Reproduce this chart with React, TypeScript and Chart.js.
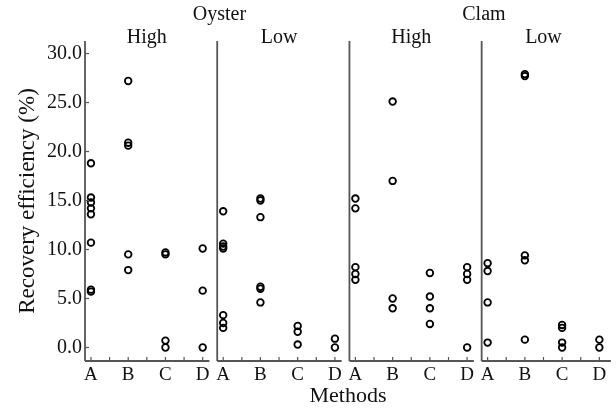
import React, { useEffect, useRef } from 'react';
import { Chart, registerables } from 'chart.js';

Chart.register(...registerables);

// ---- data ----
const methods = ['A', 'B', 'C', 'D'];
const groupTitles = ['Oyster', 'Clam'];
const levelTitles = ['High', 'Low', 'High', 'Low'];
const yTickValues = [0, 5, 10, 15, 20, 25, 30];

const oysterHigh = [
  [18.8, 15.3, 14.8, 14.2, 13.6, 10.7, 5.9, 5.7],
  [27.2, 20.9, 20.6, 9.5, 7.9],
  [9.7, 9.5, 0.7, 0.0],
  [10.1, 5.8, 0.0],
];
const oysterLow = [
  [13.9, 10.6, 10.3, 10.1, 3.3, 2.5, 2.0],
  [15.2, 15.0, 13.3, 6.2, 6.0, 4.6],
  [2.2, 1.6, 0.3],
  [0.9, 0.0],
];
const clamHigh = [
  [15.2, 14.2, 8.2, 7.5, 6.9],
  [25.1, 17.0, 5.0, 4.0],
  [7.6, 5.2, 4.0, 2.4],
  [8.2, 7.5, 6.9, 0.0],
];
const clamLow = [
  [8.6, 7.8, 4.6, 0.5],
  [27.9, 27.7, 9.4, 8.9, 0.8],
  [2.3, 2.0, 0.5, 0.0],
  [0.8, 0.0],
];
const panelData = [oysterHigh, oysterLow, clamHigh, clamLow];

// ---- layout constants (scale units) ----
const PANEL_SPAN = 3.55;
const EDGE = 0.16;
const X_MAX = 3 * PANEL_SPAN + 3.31;
const Y_MIN = -1.38;
const Y_MAX = 31.28;
const FONT = "'Liberation Serif', 'Times New Roman', serif";
const AXIS_COLOR = '#555';
const TEXT_COLOR = '#111';

const xTickPositions: number[] = [];
panelData.forEach((_, p) => methods.forEach((__, c) => xTickPositions.push(p * PANEL_SPAN + c)));

const panelFramePlugin = {
  id: 'panelFrame',
  afterDraw(chart: any) {
    const { ctx, chartArea, scales } = chart;
    const xs = scales.x;
    const ys = scales.y;
    ctx.save();
    ctx.strokeStyle = AXIS_COLOR;
    ctx.lineWidth = 1.8;
    const bottom = chartArea.bottom;
    const top = chartArea.top;
    panelData.forEach((_, p) => {
      const left = xs.getPixelForValue(p * PANEL_SPAN - EDGE);
      const right = p === panelData.length - 1 ? chartArea.right : xs.getPixelForValue(p * PANEL_SPAN + 3.18);
      ctx.beginPath();
      ctx.moveTo(left, top);
      ctx.lineTo(left, bottom);
      ctx.moveTo(left, bottom);
      ctx.lineTo(right, bottom);
      ctx.stroke();
      ctx.lineWidth = 1.2;
      for (let c = 0; c <= 3; c += 0.5) {
        const px = xs.getPixelForValue(p * PANEL_SPAN + c);
        ctx.beginPath();
        ctx.moveTo(px, bottom);
        ctx.lineTo(px, bottom - 4);
        ctx.stroke();
      }
      if (p === 0) {
        yTickValues.forEach((v) => {
          const py = ys.getPixelForValue(v);
          ctx.beginPath();
          ctx.moveTo(left, py);
          ctx.lineTo(left + 4, py);
          ctx.stroke();
        });
      }
      ctx.lineWidth = 1.8;
    });
    ctx.fillStyle = TEXT_COLOR;
    ctx.textAlign = 'center';
    ctx.textBaseline = 'middle';
    ctx.font = `20px ${FONT}`;
    levelTitles.forEach((t, p) => {
      ctx.fillText(t, xs.getPixelForValue(p * PANEL_SPAN + 1.5), 38);
    });
    groupTitles.forEach((t, g) => {
      const edge = (2 * g + 1) * PANEL_SPAN - EDGE + 0.06;
      ctx.fillText(t, xs.getPixelForValue(edge), 15);
    });
    ctx.restore();
  },
};

export default function App() {
  const canvasRef = useRef<HTMLCanvasElement | null>(null);

  useEffect(() => {
    document.body.style.margin = '0';
    const canvas = canvasRef.current;
    if (!canvas) return;
    const datasets = panelData.map((panel, p) => ({
      label: levelTitles[p],
      data: panel.flatMap((vals, c) => vals.map((v) => ({ x: p * PANEL_SPAN + c, y: v }))),
      pointStyle: 'circle',
      pointRadius: 3.3,
      pointBorderWidth: 1.8,
      borderColor: '#000',
      backgroundColor: 'rgba(0,0,0,0)',
      pointHoverRadius: 3.3,
    }));
    const chart = new Chart(canvas, {
      type: 'scatter',
      data: { datasets },
      options: {
        animation: false,
        responsive: false,
        devicePixelRatio: 1,
        layout: { padding: { top: 41, left: 0, right: 0, bottom: 0 } },
        plugins: { legend: { display: false }, tooltip: { enabled: false }, title: { display: false } },
        scales: {
          x: {
            type: 'linear',
            min: -EDGE,
            max: X_MAX,
            grid: { display: false, drawTicks: false },
            border: { display: false },
            afterBuildTicks: (s: any) => {
              s.ticks = xTickPositions.map((v) => ({ value: v }));
            },
            ticks: {
              autoSkip: false,
              maxRotation: 0,
              padding: 3,
              color: TEXT_COLOR,
              font: { family: FONT, size: 19 },
              callback: (_v: any, i: number) => methods[i % methods.length],
            },
            title: {
              display: true,
              text: 'Methods',
              color: TEXT_COLOR,
              font: { family: FONT, size: 22 },
              padding: { top: 0, bottom: 0 },
            },
            afterFit: (s: any) => {
              s.height = 48;
            },
          },
          y: {
            type: 'linear',
            min: Y_MIN,
            max: Y_MAX,
            grid: { display: false, drawTicks: false },
            border: { display: false },
            afterBuildTicks: (s: any) => {
              s.ticks = yTickValues.map((v) => ({ value: v }));
            },
            ticks: {
              padding: 3,
              color: TEXT_COLOR,
              font: { family: FONT, size: 20 },
              callback: (v: any) => Number(v).toFixed(1),
            },
            title: {
              display: true,
              text: 'Recovery efficiency (%)',
              color: TEXT_COLOR,
              font: { family: FONT, size: 23 },
              padding: { top: 14, bottom: 0 },
            },
            afterFit: (s: any) => {
              s.width = 85;
            },
          },
        },
      },
      plugins: [panelFramePlugin],
    } as any);
    return () => chart.destroy();
  }, []);

  return (
    <div style={{ position: 'absolute', left: 0, top: 0, width: 616, height: 409, background: '#fff' }}>
      <canvas ref={canvasRef} width={616} height={409} />
    </div>
  );
}
